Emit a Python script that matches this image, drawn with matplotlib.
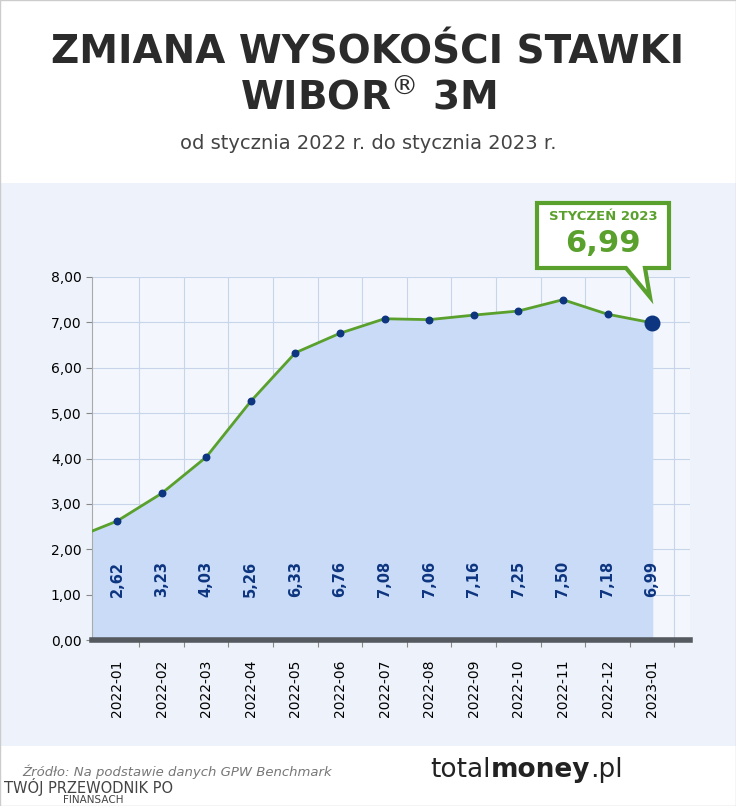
import numpy as np
from matplotlib import pyplot as plt
from matplotlib.patches import Rectangle, Polygon

months = ['2022-01', '2022-02', '2022-03', '2022-04', '2022-05', '2022-06', '2022-07',
          '2022-08', '2022-09', '2022-10', '2022-11', '2022-12', '2023-01']
values = [2.62, 3.23, 4.03, 5.26, 6.33, 6.76, 7.08, 7.06, 7.16, 7.25, 7.50, 7.18, 6.99]
start_value = 2.40
yticks = [0, 1, 2, 3, 4, 5, 6, 7, 8]

green = '#5aa02c'
navy = '#0d3580'

fig = plt.figure(figsize=(7.36, 8.06), dpi=100)
fig.patch.set_facecolor('white')
# light panel behind the chart
fig.patches.append(Rectangle((0, 60/806), 1, (806-183-60)/806, transform=fig.transFigure,
                             facecolor='#eef3fb', edgecolor='none', zorder=-2))
fig.patches.append(Rectangle((0, 0), 1, 1, transform=fig.transFigure,
                             facecolor='none', edgecolor='#cccccc', lw=1, zorder=-1))

fig.text(0.5, 0.935, 'ZMIANA WYSOKOŚCI STAWKI', ha='center', va='center',
         fontsize=28, fontweight='bold', color='#2b2b2b')
fig.text(0.5, 0.878, 'WIBOR$^{®}$ 3M', ha='center', va='center',
         fontsize=28, fontweight='bold', color='#2b2b2b')
fig.text(0.5, 0.822, 'od stycznia 2022 r. do stycznia 2023 r.', ha='center', va='center',
         fontsize=14, color='#444444')

ax = fig.add_axes([92/736, (806-640)/806, (690-92)/736, (640-277)/806])
ax.set_facecolor('#f3f6fc')
x = np.arange(len(values))
x0 = -0.56
xs = np.concatenate([[x0], x])
ys = np.concatenate([[start_value], values])
ax.fill_between(xs, ys, 0, color='#c9dbf6', zorder=1)
ax.plot(xs, ys, color=green, lw=2, zorder=3)
ax.scatter(x[:-1], values[:-1], s=22, color=navy, zorder=4)
ax.scatter(x[-1:], values[-1:], s=110, color=navy, zorder=4)
for xi, v in zip(x, values):
    ax.text(xi, 1.35, f'{v:.2f}'.replace('.', ','), rotation=90, ha='center', va='center',
            fontsize=10.5, fontweight='bold', color=navy, zorder=5)

ax.set_xlim(x0, 12.85)
ax.set_ylim(0, 8)
ax.set_yticks(yticks)
ax.set_yticklabels([f'{t:.2f}'.replace('.', ',') for t in yticks], fontsize=10)
ax.set_xticks(x + 0.5)
ax.set_xticklabels([])
ax.set_xticks(x, minor=True)
ax.set_xticklabels(months, minor=True, rotation=90, fontsize=10)
ax.tick_params(axis='x', which='minor', length=0, pad=14)
ax.tick_params(axis='x', which='major', length=5, color='#888888')
ax.tick_params(axis='y', length=4, color='#888888')
ax.grid(True, which='major', color='#c8d4ea', lw=0.8, zorder=0)
ax.set_axisbelow(True)
for s in ['top', 'right']:
    ax.spines[s].set_visible(False)
ax.spines['left'].set_color('#aaaaaa')
ax.spines['bottom'].set_color('#555a60')
ax.spines['bottom'].set_linewidth(4)

# callout
fig.patches.append(Polygon([(537/736, 1-203/806), (669/736, 1-203/806), (669/736, 1-268/806),
                            (645/736, 1-268/806), (650/736, 1-297/806), (626/736, 1-268/806),
                            (537/736, 1-268/806)], closed=True, transform=fig.transFigure,
                           facecolor='white', edgecolor=green, lw=3, zorder=5))
fig.text(603/736, 1-217/806, 'STYCZEŃ 2023', ha='center', va='center', fontsize=9.5,
         fontweight='bold', color=green, zorder=6)
fig.text(603/736, 1-243/806, '6,99', ha='center', va='center', fontsize=22,
         fontweight='bold', color=green, zorder=6)

fig.text(0.03, 1-772/806, 'Źródło: Na podstawie danych GPW Benchmark', fontsize=9.5,
         style='italic', color='#777777', va='center')
fig.text(0.005, 1-787/806, 'TWÓJ PRZEWODNIK PO', fontsize=10.5, color='#444444', va='center')
fig.text(0.085, 1-800/806, 'FINANSACH', fontsize=7.5, color='#444444', va='center')

# wordmark: total + bold money + .pl placed side by side
r = fig.canvas.get_renderer()
parts = [('total', 'normal'), ('money', 'bold'), ('.pl', 'normal')]
xpos = 0.585
for txt, w in parts:
    t = fig.text(xpos, 1-770/806, txt, fontsize=19, fontweight=w, color='#222222', va='center')
    xpos += t.get_window_extent(r).width / fig.bbox.width

fig.savefig('out.png', dpi=100)
